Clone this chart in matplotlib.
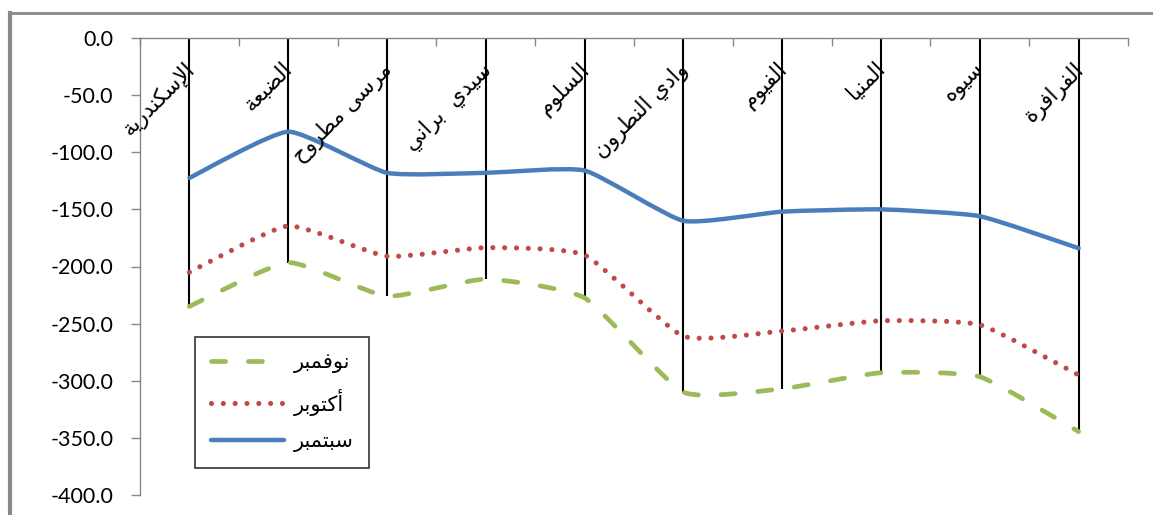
import matplotlib
matplotlib.use("Agg")
import matplotlib.pyplot as plt
from matplotlib.path import Path
from matplotlib.patches import PathPatch
from matplotlib.lines import Line2D
import numpy as np

# ---------------------------------------------------------------- data
stations = ["الإسكندرية", "الضبعة", "مرسى مطروح", "سيدي  براني", "السلوم",
            "وادي النطرون", "الفيوم", "المنيا", "سيوه", "الفرافرة"]
september = [-122.5, -82.0, -118.0, -118.0, -116.0, -160.0, -152.0, -150.0, -156.0, -184.0]
october = [-205.0, -164.5, -191.0, -183.5, -190.0, -261.0, -256.5, -247.5, -251.0, -295.0]
november = [-235.0, -196.5, -226.0, -211.0, -227.5, -310.0, -307.0, -293.0, -296.5, -344.5]
series_names = ["نوفمبر", "أكتوبر", "سبتمبر"]
y_ticks = [0, -50, -100, -150, -200, -250, -300, -350, -400]

# ------------------------------------------------- Arabic contextual shaping
# isolated, final, initial, medial (right-joining letters have two forms)
FORMS = {
    "ا": (0xFE8D, 0xFE8E), "أ": (0xFE83, 0xFE84), "إ": (0xFE87, 0xFE88),
    "آ": (0xFE81, 0xFE82),
    "ب": (0xFE8F, 0xFE90, 0xFE91, 0xFE92), "ة": (0xFE93, 0xFE94),
    "ت": (0xFE95, 0xFE96, 0xFE97, 0xFE98), "ح": (0xFEA1, 0xFEA2, 0xFEA3, 0xFEA4),
    "د": (0xFEA9, 0xFEAA), "ر": (0xFEAD, 0xFEAE),
    "س": (0xFEB1, 0xFEB2, 0xFEB3, 0xFEB4), "ض": (0xFEBD, 0xFEBE, 0xFEBF, 0xFEC0),
    "ط": (0xFEC1, 0xFEC2, 0xFEC3, 0xFEC4), "ع": (0xFEC9, 0xFECA, 0xFECB, 0xFECC),
    "ف": (0xFED1, 0xFED2, 0xFED3, 0xFED4), "ق": (0xFED5, 0xFED6, 0xFED7, 0xFED8),
    "ك": (0xFED9, 0xFEDA, 0xFEDB, 0xFEDC), "ل": (0xFEDD, 0xFEDE, 0xFEDF, 0xFEE0),
    "م": (0xFEE1, 0xFEE2, 0xFEE3, 0xFEE4), "ن": (0xFEE5, 0xFEE6, 0xFEE7, 0xFEE8),
    "ه": (0xFEE9, 0xFEEA, 0xFEEB, 0xFEEC), "و": (0xFEED, 0xFEEE),
    "ى": (0xFEEF, 0xFEF0), "ي": (0xFEF1, 0xFEF2, 0xFEF3, 0xFEF4),
}
LAM_ALEF = {"ا": (0xFEFB, 0xFEFC), "أ": (0xFEF7, 0xFEF8),
            "إ": (0xFEF9, 0xFEFA), "آ": (0xFEF5, 0xFEF6)}


def shape_arabic(text):
    tokens = []
    i = 0
    while i < len(text):
        ch = text[i]
        if ch == "ل" and i + 1 < len(text) and text[i + 1] in LAM_ALEF:
            tokens.append(("LA", LAM_ALEF[text[i + 1]]))
            i += 2
        else:
            tokens.append((ch, FORMS.get(ch)))
            i += 1
    out = []
    for k, (ch, forms) in enumerate(tokens):
        if forms is None:
            out.append(ch)
            continue
        prev = tokens[k - 1] if k > 0 else None
        nxt = tokens[k + 1] if k + 1 < len(tokens) else None
        join_prev = prev is not None and prev[1] is not None and len(prev[1]) == 4
        join_next = len(forms) == 4 and nxt is not None and nxt[1] is not None
        if join_prev and join_next:
            cp = forms[3]
        elif join_prev:
            cp = forms[1]
        elif join_next:
            cp = forms[2]
        else:
            cp = forms[0]
        out.append(chr(cp))
    return "".join(reversed(out))


def smooth_path(xs, ys, tension=12.0):
    """Gently rounded polyline through the points (cubic Bezier segments)."""
    pts = np.column_stack([xs, ys]).astype(float)
    n = len(pts)
    verts = [pts[0]]
    codes = [Path.MOVETO]
    for i in range(n - 1):
        p0 = pts[max(i - 1, 0)]
        p1 = pts[i]
        p2 = pts[i + 1]
        p3 = pts[min(i + 2, n - 1)]
        verts += [p1 + (p2 - p0) / tension, p2 - (p3 - p1) / tension, p2]
        codes += [Path.CURVE4] * 3
    return Path(verts, codes)


# ---------------------------------------------------------------- figure
W, H = 1153, 515
fig = plt.figure(figsize=(W / 100, H / 100), dpi=100)
ax = fig.add_axes([140 / W, 1 - 495 / H, 988 / W, 457 / H])

x = np.arange(len(stations))
ax.set_xlim(-0.5, len(stations) - 0.5)
ax.set_ylim(-400, 0)

axis_grey = "#868686"
blue, red, green = "#4A7EBB", "#BE4B48", "#9BBB59"

# drop lines from the category axis to the lowest series
lows = np.minimum(np.minimum(september, october), november)
ax.vlines(x, lows, 0, color="black", lw=1.5, zorder=2)

styles = [
    (november, green, 3.4, (0, (3.0, 4.8))),
    (october, red, 3.7, (0, (0.001, 2.3))),
    (september, blue, 3.2, "solid"),
]
for vals, col, lw, ls in styles:
    patch = PathPatch(smooth_path(x, vals), facecolor="none", edgecolor=col,
                      lw=lw, linestyle=ls, capstyle="round", joinstyle="round",
                      zorder=3)
    ax.add_patch(patch)

# axes styling
for side in ("right", "bottom"):
    ax.spines[side].set_visible(False)
ax.spines["left"].set_color(axis_grey)
ax.spines["top"].set_color(axis_grey)
ax.spines["left"].set_linewidth(1.0)
ax.spines["top"].set_linewidth(1.0)

ax.set_yticks(y_ticks)
ax.set_yticklabels([f"{v:.1f}" for v in y_ticks], fontsize=15.5, family="Lato")
ax.tick_params(axis="y", length=6.5, width=1.0, color=axis_grey, pad=12.5)

ax.xaxis.set_ticks_position("top")
ax.set_xticks(np.arange(-0.5, len(stations), 1.0))
ax.set_xticklabels([])
ax.tick_params(axis="x", direction="in", length=5.8, width=1.0, color=axis_grey)

for xi, name in zip(x, stations):
    ax.text(xi - 0.06, -18, shape_arabic(name), rotation=45, rotation_mode="anchor",
            ha="right", va="top", fontsize=15.5, family="DejaVu Sans", zorder=4)

handles = [Line2D([], [], color=c, lw=lw, linestyle=ls, dash_capstyle="round",
                  solid_capstyle="round") for _, c, lw, ls in styles]
leg = fig.legend(handles, [shape_arabic(s) for s in series_names],
                 loc="lower left", bbox_to_anchor=(195 / W, 1 - 468 / H),
                 bbox_transform=fig.transFigure, frameon=True, fancybox=False,
                 edgecolor="black", handlelength=3.5, labelspacing=0.75,
                 borderpad=0.75, handletextpad=0.5, borderaxespad=0,
                 prop={"family": "DejaVu Sans", "size": 15})
leg.get_frame().set_linewidth(1.2)

# chart-area frame
frame_col = "#898989"
fig.add_artist(Line2D([10 / W, 10 / W], [0, 1 - 13 / H], transform=fig.transFigure,
                      color=frame_col, lw=3.0))
fig.add_artist(Line2D([9 / W, 1], [1 - 13 / H, 1 - 13 / H], transform=fig.transFigure,
                      color=frame_col, lw=2.0))

fig.savefig("out.png", dpi=100)
